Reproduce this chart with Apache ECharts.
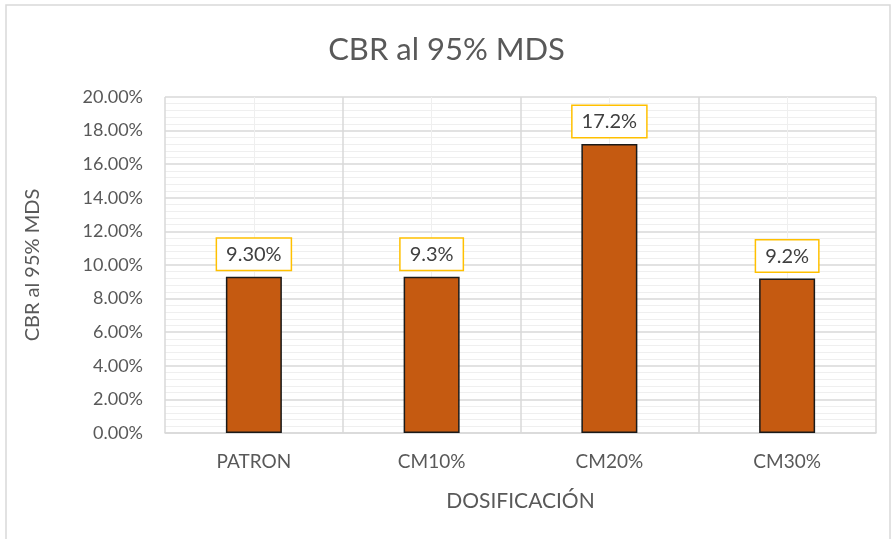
<!DOCTYPE html>
<html><head><meta charset="utf-8">
<script src="https://cdn.jsdelivr.net/npm/echarts@6/dist/echarts.min.js"></script>
<style>html,body{margin:0;padding:0;background:#fff}#c{width:893px;height:539px}</style>
</head><body><div id="c"></div>
<script>
const categories = ['PATRON', 'CM10%', 'CM20%', 'CM30%'];
const values = [9.30, 9.3, 17.2, 9.2];
const valueLabels = ['9.30%', '9.3%', '17.2%', '9.2%'];
const yTicks = [0, 2, 4, 6, 8, 10, 12, 14, 16, 18, 20];

const FONT = 'Lato';
const chart = echarts.init(document.getElementById('c'), null, {renderer: 'canvas'});
chart.setOption({
  animation: false,
  backgroundColor: '#fff',
  title: {
    text: 'CBR al 95% MDS', left: 'center', top: 29,
    textStyle: {fontFamily: FONT, fontSize: 31, fontWeight: 'normal', color: '#595959'}
  },
  graphic: [{type: 'rect', shape: {x: 6, y: 5, width: 884, height: 540},
    style: {fill: 'none', stroke: '#D9D9D9', lineWidth: 1.5}, silent: true}],
  grid: {left: 165, right: 17, top: 97, bottom: 106},
  xAxis: {
    type: 'category', data: categories,
    name: 'DOSIFICACIÓN', nameLocation: 'middle', nameGap: 58,
    nameTextStyle: {fontFamily: FONT, fontSize: 21, color: '#595959'},
    axisLine: {show: true, lineStyle: {color: '#D9D9D9', width: 1.5}},
    axisTick: {show: false},
    axisLabel: {fontFamily: FONT, fontSize: 19, color: '#595959', margin: 19},
    splitLine: {show: true, lineStyle: {color: '#D9D9D9', width: 1.5}}
  },
  yAxis: {
    type: 'value', min: 0, max: 20, interval: 2,
    name: 'CBR al 95% MDS', nameLocation: 'middle', nameGap: 122,
    nameTextStyle: {fontFamily: FONT, fontSize: 20, color: '#595959'},
    axisLine: {show: false}, axisTick: {show: false},
    axisLabel: {fontFamily: FONT, fontSize: 18, color: '#595959', margin: 22,
      formatter: v => v.toFixed(2) + '%'},
    splitLine: {show: true, lineStyle: {color: '#D9D9D9', width: 1.5}},
    minorTick: {show: false, splitNumber: 5},
    minorSplitLine: {show: true, lineStyle: {color: '#EFEFEF', width: 1}}
  },
  series: [{
    type: 'bar', data: values, barWidth: '31.5%',
    itemStyle: {color: '#C55A11', borderColor: '#1a1a1a', borderWidth: 1.5},
    label: {
      show: true, position: 'top', distance: 7,
      formatter: p => valueLabels[p.dataIndex],
      fontFamily: FONT, fontSize: 20, color: '#404040',
      borderColor: '#FFC000', borderWidth: 1.5, padding: [6, 9, 5, 9],
      backgroundColor: '#fff'
    },
    markLine: {
      silent: true, symbol: 'none', label: {show: false},
      lineStyle: {color: '#EFEFEF', width: 1, type: 'solid'},
      data: categories.map(c => ({xAxis: c})),
      z: 1
    },
    z: 3
  }]
});
</script></body></html>
